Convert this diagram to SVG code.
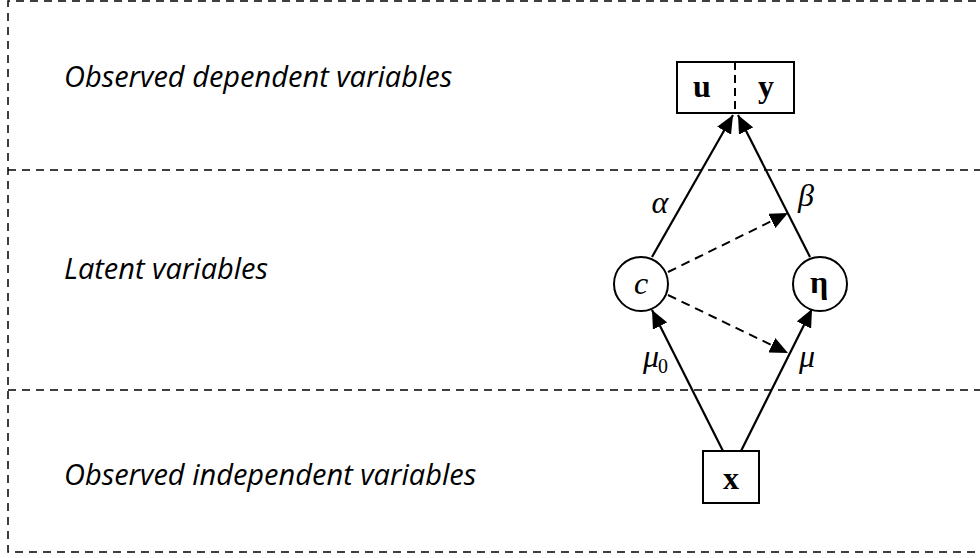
<svg xmlns="http://www.w3.org/2000/svg" width="980" height="558" viewBox="0 0 980 558">
<style>
.bg{fill:#fff}
.frame{fill:none;stroke:#000;stroke-width:1.5;stroke-dasharray:8 6}
.lbl{font-family:"Open Sans","Noto Sans",sans-serif;font-style:italic;font-size:29px;fill:#000}
.node{fill:#fff;stroke:#000;stroke-width:2}
.bold{font-family:"Liberation Serif",serif;font-weight:bold;font-size:32px;fill:#000;text-anchor:middle}
.math{font-family:"Liberation Serif",serif;font-style:italic;font-size:32px;fill:#000;text-anchor:middle}
.sub{font-family:"Liberation Serif",serif;font-size:20px;fill:#000}
.solid{fill:none;stroke:#000;stroke-width:2.2;marker-end:url(#ah)}
.dash{fill:none;stroke:#000;stroke-width:2;stroke-dasharray:9 6;marker-end:url(#ah)}
</style>
<defs>
<marker id="ah" markerUnits="userSpaceOnUse" markerWidth="20" markerHeight="16" refX="18" refY="8" orient="auto">
<path d="M0,0 L18,8 L0,16 z" fill="#000"/>
</marker>
</defs>
<rect class="bg" x="0" y="0" width="980" height="558"/>
<g id="frame">
<path class="frame" d="M990,1 H8 V552 H990"/>
<path class="frame" d="M8,170 H990"/>
<path class="frame" d="M8,390 H990"/>
</g>
<g id="labels">
<text class="lbl" x="64" y="87">Observed dependent variables</text>
<text class="lbl" x="64" y="279">Latent variables</text>
<text class="lbl" x="64" y="485">Observed independent variables</text>
</g>
<g id="connectors">
<path class="solid" d="M723,451 L652,310"/>
<path class="solid" d="M741,451 L812,309"/>
<path class="solid" d="M652,257 L733,115"/>
<path class="solid" d="M810,257 L738,115"/>
<path class="dash" d="M668,272 L788,213"/>
<path class="dash" d="M668,295 L788,353"/>
</g>
<g id="node-uy">
<rect class="node" x="677" y="62" width="117" height="51"/>
<path d="M735,62 V113" stroke="#000" stroke-width="2" stroke-dasharray="8 5"/>
<text class="bold" x="702" y="97">u</text>
<text class="bold" x="766" y="97">y</text>
</g>
<g id="node-c">
<circle class="node" cx="641" cy="284" r="27"/>
<text class="math" x="641" y="294">c</text>
</g>
<g id="node-eta">
<circle class="node" cx="820" cy="284" r="27"/>
<text class="bold" x="819" y="293">η</text>
</g>
<g id="node-x">
<rect class="node" x="703" y="451" width="56" height="52"/>
<text class="bold" x="731" y="489">x</text>
</g>
<g id="edge-labels">
<text class="math" x="660" y="213">α</text>
<text class="math" x="806" y="206">β</text>
<text class="math" x="651" y="367">μ</text>
<text class="sub" x="658" y="373">0</text>
<text class="math" x="807" y="367">μ</text>
</g>
</svg>
